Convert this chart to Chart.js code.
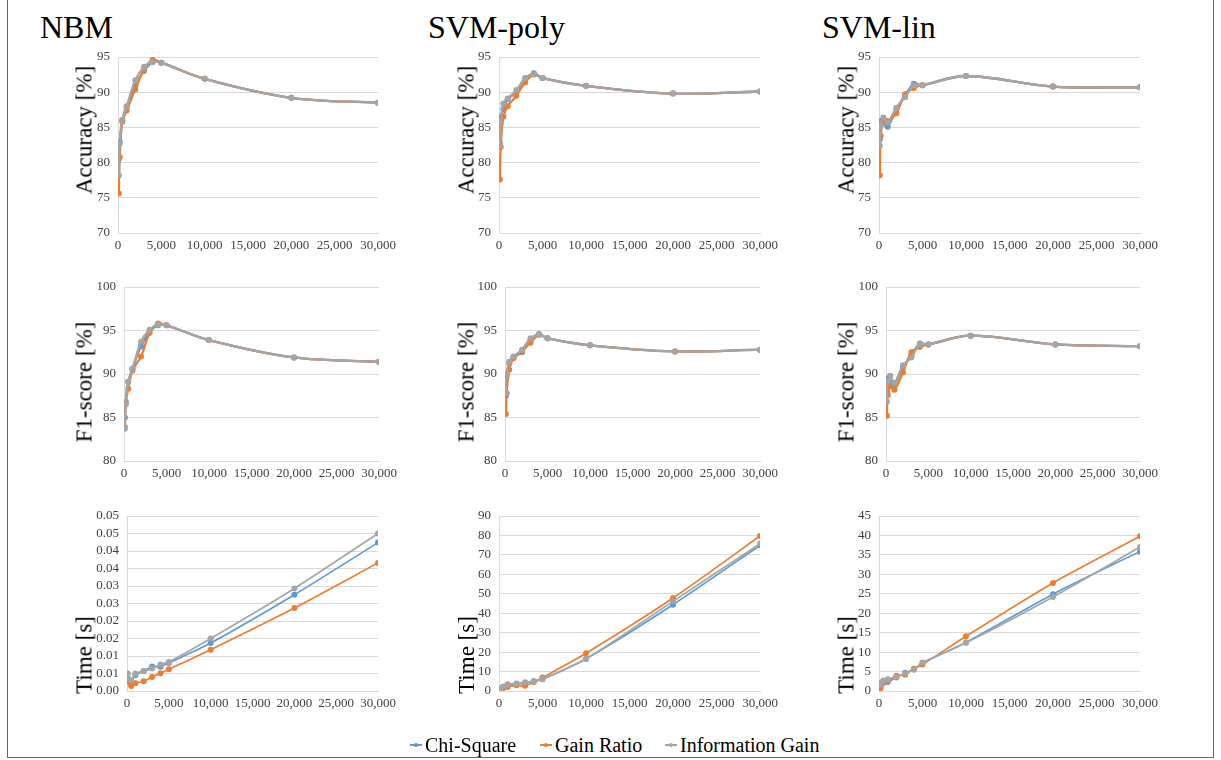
<!DOCTYPE html>
<html>
<head>
<meta charset="utf-8">
<title>Feature selection results</title>
<script src="https://cdn.jsdelivr.net/npm/chart.js@4.4.1/dist/chart.umd.min.js"></script>
<style>
  body {
    margin: 0;
    width: 1221px;
    height: 760px;
    overflow: hidden;
    position: relative;
    background: #fff;
    font-family: "Liberation Serif", "DejaVu Serif", serif;
    color: #000;
  }
  .frame {
    position: absolute;
    left: 7px;
    top: -1px;
    width: 1205px;
    height: 757px;
    border: 1px solid #666;
  }
  .panel-title {
    position: absolute;
    top: 11px;
    font-size: 32px;
    line-height: 1;
    white-space: nowrap;
  }
  .axis-title {
    position: absolute;
    font-size: 23px;
    line-height: 1;
    white-space: nowrap;
    transform: translate(-50%, -50%) rotate(-90deg);
  }
  canvas { position: absolute; }
  .legend-item {
    position: absolute;
    top: 733px;
    font-size: 20px;
    line-height: 24px;
    white-space: nowrap;
  }
  .legend-item .mark {
    position: absolute;
    left: -15px;
    top: 11px;
    width: 12px;
    height: 1.5px;
  }
  .legend-item .mark::after {
    content: "";
    position: absolute;
    left: 4px;
    top: -1.5px;
    width: 4px;
    height: 4px;
    border-radius: 50%;
    background: inherit;
  }
</style>
</head>
<body>
<div class="frame"></div>

<div class="panel-title" style="left:40px">NBM</div>
<div class="panel-title" style="left:428px">SVM-poly</div>
<div class="panel-title" style="left:822px">SVM-lin</div>

<div id="charts"></div>

<div class="legend-item" style="left:425px"><span class="mark" style="background:#5B9BD5"></span>Chi-Square</div>
<div class="legend-item" style="left:555px"><span class="mark" style="background:#ED7D31"></span>Gain Ratio</div>
<div class="legend-item" style="left:680px"><span class="mark" style="background:#A5A5A5"></span>Information Gain</div>

<script>
// number of selected features on the x axis
var sizes = [100, 200, 500, 1000, 2000, 3000, 4000, 5000, 10000, 20000, 30000];

var seriesNames = ['Chi-Square', 'Gain Ratio', 'Information Gain'];
var seriesColors = ['#5B9BD5', '#ED7D31', '#A5A5A5'];

// NBM
var nbmAccChi  = [80.5, 83.0, 86.0, 87.9, 91.0, 93.0, 94.3, 94.2, 91.9, 89.2, 88.5];
var nbmAccGain = [75.6, 80.8, 85.8, 87.4, 90.4, 93.2, 94.6, 94.2, 91.9, 89.2, 88.5];
var nbmAccInfo = [78.2, 82.7, 86.1, 88.0, 91.7, 93.6, 94.3, 94.2, 91.9, 89.2, 88.5];

var nbmF1Chi  = [85.0, 86.8, 89.1, 90.6, 93.2, 94.8, 95.6, 95.6, 93.9, 91.9, 91.4];
var nbmF1Gain = [83.9, 86.7, 88.3, 90.4, 92.0, 94.7, 95.8, 95.6, 93.9, 91.9, 91.4];
var nbmF1Info = [83.7, 86.5, 89.1, 90.6, 93.7, 95.1, 95.7, 95.6, 93.9, 91.9, 91.4];

var nbmTimeChi  = [0.0035, 0.0030, 0.0028, 0.0045, 0.0057, 0.0070, 0.0069, 0.0080, 0.0137, 0.0275, 0.0424];
var nbmTimeGain = [0.0032, 0.0026, 0.0014, 0.0022, 0.0028, 0.0040, 0.0051, 0.0062, 0.0118, 0.0237, 0.0366];
var nbmTimeInfo = [0.0050, 0.0035, 0.0030, 0.0050, 0.0057, 0.0064, 0.0076, 0.0083, 0.0150, 0.0293, 0.0450];

// SVM with polynomial kernel
var polyAccChi  = [82.8, 86.5, 87.6, 89.0, 90.0, 91.4, 92.7, 92.0, 90.9, 89.8, 90.1];
var polyAccGain = [77.6, 82.2, 86.5, 88.0, 89.5, 91.4, 92.5, 92.0, 90.9, 89.8, 90.1];
var polyAccInfo = [82.4, 85.6, 88.4, 89.1, 90.3, 92.0, 92.6, 92.0, 90.9, 89.8, 90.1];

var polyF1Chi  = [87.5, 89.8, 91.2, 91.9, 92.5, 93.9, 94.6, 94.1, 93.3, 92.6, 92.8];
var polyF1Gain = [85.4, 87.8, 90.5, 91.8, 92.6, 93.6, 94.5, 94.1, 93.3, 92.6, 92.8];
var polyF1Info = [87.8, 90.0, 91.4, 92.0, 92.8, 94.1, 94.5, 94.1, 93.3, 92.6, 92.8];

var polyTimeChi  = [0.5, 1.2, 2.1, 3.3, 3.6, 4.1, 5.0, 6.0, 16.6, 44.4, 74.9];
var polyTimeGain = [1.2, 1.3, 1.5, 2.1, 2.9, 2.7, 4.6, 6.9, 19.4, 47.8, 79.7];
var polyTimeInfo = [0.6, 1.5, 2.3, 3.3, 3.9, 4.5, 5.0, 6.2, 16.5, 46.1, 75.8];

// SVM with linear kernel
var linAccChi  = [83.3, 85.9, 85.6, 85.1, 87.6, 89.5, 91.2, 91.0, 92.3, 90.8, 90.7];
var linAccGain = [78.2, 83.8, 85.8, 85.9, 87.0, 89.7, 90.6, 91.0, 92.3, 90.8, 90.7];
var linAccInfo = [82.4, 85.3, 86.4, 85.7, 87.8, 89.3, 91.0, 91.0, 92.3, 90.8, 90.7];

var linF1Chi  = [87.9, 89.5, 89.0, 88.8, 90.8, 92.1, 93.5, 93.4, 94.4, 93.4, 93.2];
var linF1Gain = [85.2, 87.6, 88.6, 88.2, 90.2, 92.5, 93.1, 93.4, 94.4, 93.4, 93.2];
var linF1Info = [86.8, 89.2, 89.8, 89.0, 91.0, 91.9, 93.4, 93.4, 94.4, 93.4, 93.2];

var linTimeChi  = [1.1, 1.7, 2.1, 2.3, 3.5, 4.7, 5.5, 7.2, 12.5, 24.9, 35.9];
var linTimeGain = [0.3, 0.9, 2.1, 2.7, 3.9, 4.2, 5.7, 6.8, 14.1, 27.8, 39.8];
var linTimeInfo = [1.5, 2.2, 2.7, 3.0, 3.6, 4.5, 5.5, 7.3, 12.4, 24.2, 37.0];

// tick labels of the NBM time axis (two decimals, as printed)
var nbmTimeTickLabels = ['0.00', '0.01', '0.01', '0.02', '0.02', '0.03', '0.03', '0.04', '0.04', '0.05', '0.05'];

var accRange  = { min: 70, max: 95, step: 5 };
var f1Range   = { min: 80, max: 100, step: 5 };

var panels = [
    { plot: [118, 57, 378, 233],  y: accRange, series: [nbmAccChi, nbmAccGain, nbmAccInfo], title: 'Accuracy [%]', tx: 84, ty: 130 },
    { plot: [124, 287, 379, 461], y: f1Range,  series: [nbmF1Chi, nbmF1Gain, nbmF1Info], title: 'F1-score [%]', tx: 84, ty: 382 },
    { plot: [127, 516, 378, 691], y: { min: 0, max: 0.05, step: 0.005, labels: nbmTimeTickLabels },
      series: [nbmTimeChi, nbmTimeGain, nbmTimeInfo], title: 'Time [s]', tx: 84, ty: 655, thin: true },

    { plot: [499, 57, 760, 233],  y: accRange, series: [polyAccChi, polyAccGain, polyAccInfo], title: 'Accuracy [%]', tx: 466, ty: 130 },
    { plot: [505, 287, 760, 461], y: f1Range,  series: [polyF1Chi, polyF1Gain, polyF1Info], title: 'F1-score [%]', tx: 466, ty: 382 },
    { plot: [499, 516, 760, 691], y: { min: 0, max: 90, step: 10 },
      series: [polyTimeChi, polyTimeGain, polyTimeInfo], title: 'Time [s]', tx: 466, ty: 655, thin: true },

    { plot: [879, 57, 1140, 233],  y: accRange, series: [linAccChi, linAccGain, linAccInfo], title: 'Accuracy [%]', tx: 846, ty: 130 },
    { plot: [886, 287, 1140, 461], y: f1Range,  series: [linF1Chi, linF1Gain, linF1Info], title: 'F1-score [%]', tx: 846, ty: 382 },
    { plot: [879, 516, 1140, 691], y: { min: 0, max: 45, step: 5 },
      series: [linTimeChi, linTimeGain, linTimeInfo], title: 'Time [s]', tx: 846, ty: 655, thin: true }
];

var Y_AXIS_W = 44, X_AXIS_H = 24, PAD_TOP = 10, PAD_RIGHT = 26;
var tickFont = { family: 'Liberation Serif', size: 13 };

function toPoints(values) {
    return values.map(function(v, i) { return { x: sizes[i], y: v }; });
}

function buildPanel(p) {
    var holder = document.getElementById('charts');
    var left = p.plot[0] - Y_AXIS_W;
    var top = p.plot[1] - PAD_TOP;
    var width = p.plot[2] + PAD_RIGHT - left;
    var height = p.plot[3] + X_AXIS_H - top;

    var canvas = document.createElement('canvas');
    canvas.width = width;
    canvas.height = height;
    canvas.style.left = left + 'px';
    canvas.style.top = top + 'px';
    canvas.style.width = width + 'px';
    canvas.style.height = height + 'px';
    holder.appendChild(canvas);

    var label = document.createElement('div');
    label.className = 'axis-title';
    label.style.left = p.tx + 'px';
    label.style.top = p.ty + 'px';
    label.textContent = p.title;
    holder.appendChild(label);

    var datasets = p.series.map(function(values, s) {
        return {
            label: seriesNames[s],
            data: toPoints(values),
            borderColor: seriesColors[s],
            backgroundColor: seriesColors[s],
            borderWidth: p.thin ? 1.7 : 2.3,
            pointRadius: 3,
            pointBorderWidth: 0,
            tension: p.thin ? 0.25 : 0.35,
            fill: false,
            order: 2 - s // information gain is drawn on top
        };
    });

    new Chart(canvas.getContext('2d'), {
        type: 'line',
        data: { datasets: datasets },
        options: {
            responsive: false,
            animation: false,
            devicePixelRatio: 1,
            layout: { padding: { left: 0, top: PAD_TOP, right: PAD_RIGHT, bottom: 0 } },
            plugins: {
                legend: { display: false },
                tooltip: { enabled: false }
            },
            scales: {
                x: {
                    type: 'linear',
                    min: 0,
                    max: 30000,
                    grid: { display: false, drawTicks: false },
                    border: { display: true, color: '#d9d9d9', width: 1 },
                    ticks: {
                        stepSize: 5000,
                        padding: 5,
                        maxRotation: 0,
                        autoSkip: false,
                        color: '#404040',
                        font: tickFont,
                        callback: function(v) { return Number(v).toLocaleString('en-US'); }
                    },
                    afterFit: function(scale) {
                        scale.height = X_AXIS_H;
                        scale.paddingLeft = 0;
                        scale.paddingRight = 0;
                    }
                },
                y: {
                    min: p.y.min,
                    max: p.y.max,
                    grid: { color: '#d9d9d9', lineWidth: 1, drawTicks: false },
                    border: { display: true, color: '#d9d9d9', width: 1 },
                    ticks: {
                        stepSize: p.y.step,
                        padding: 8,
                        autoSkip: false,
                        color: '#404040',
                        font: tickFont,
                        callback: function(v, i) {
                            return p.y.labels ? p.y.labels[i] : v;
                        }
                    },
                    afterFit: function(scale) {
                        scale.width = Y_AXIS_W;
                        scale.paddingTop = 0;
                        scale.paddingBottom = 0;
                    }
                }
            }
        }
    });
}

panels.forEach(buildPanel);
</script>
</body>
</html>
